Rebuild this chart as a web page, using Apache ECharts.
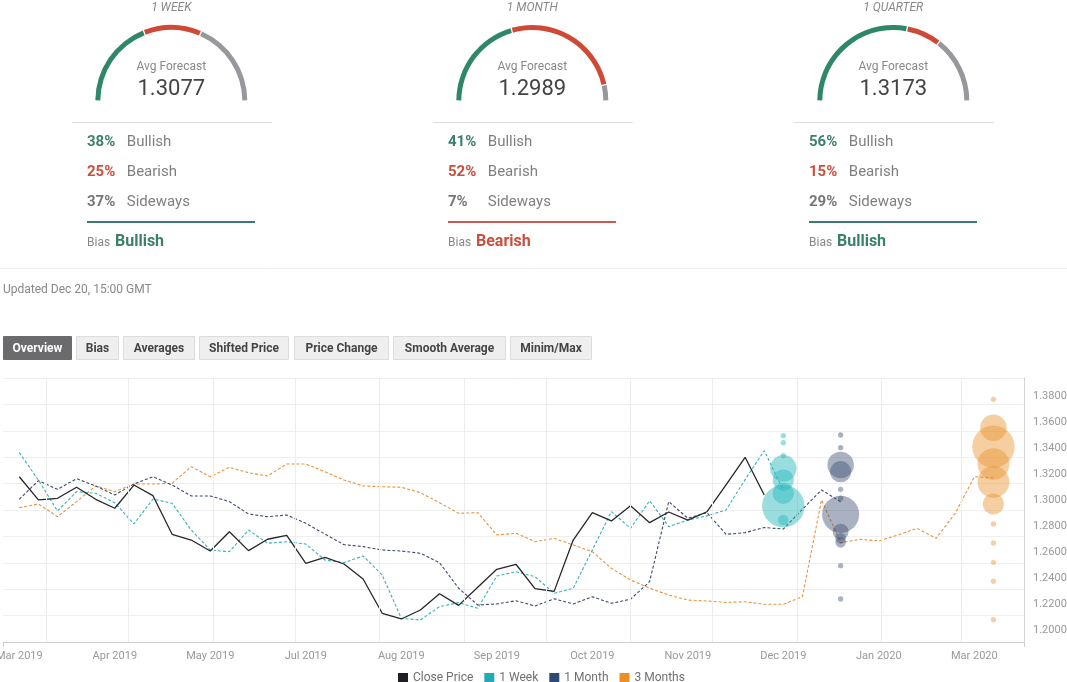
<!DOCTYPE html>
<html><head><meta charset="utf-8">
<script src="https://cdn.jsdelivr.net/npm/echarts@6/dist/echarts.min.js"></script>
<style>html,body{margin:0;padding:0;background:#fff}#c{width:1067px;height:682px}</style>
</head><body><div id="c"></div>
<script>
// ---------- data ----------
const horizons = ['1 WEEK', '1 MONTH', '1 QUARTER'];
const avgForecast = ['1.3077', '1.2989', '1.3173'];
const bullishPct = [38, 41, 56];
const bearishPct = [25, 52, 15];
const sidewaysPct = [37, 7, 29];
const biasText = ['Bullish', 'Bearish', 'Bullish'];
const updatedText = 'Updated Dec 20, 15:00 GMT';
const tabs = ['Overview', 'Bias', 'Averages', 'Shifted Price', 'Price Change', 'Smooth Average', 'Minim/Max'];

const firstWeek = [2019, 2, 22];            // first weekly close (22 Mar 2019)
const xTickLabels = ['Mar 2019', 'Apr 2019', 'May 2019', 'Jul 2019', 'Aug 2019', 'Sep 2019',
                     'Oct 2019', 'Nov 2019', 'Dec 2019', 'Jan 2020', 'Mar 2020'];
const xTickEvery = 5;                       // one label every 5 weeks
const monthStarts = [[2019,3],[2019,4],[2019,5],[2019,6],[2019,7],[2019,8],[2019,9],[2019,10],[2019,11],[2020,0],[2020,1],[2020,2]];

const closePrice = [1.3182, 1.3003, 1.3016, 1.3101, 1.3008, 1.2939, 1.3118, 1.3036, 1.2738, 1.2694,
  1.2609, 1.2758, 1.2612, 1.2700, 1.2730, 1.2514, 1.2561, 1.2509, 1.2393, 1.2129,
  1.2085, 1.2154, 1.2280, 1.2190, 1.2329, 1.2468, 1.2507, 1.2319, 1.2298, 1.2694,
  1.2905, 1.2841, 1.2959, 1.2828, 1.2910, 1.2848, 1.2912, 1.3120, 1.3332, 1.3041];
const week1 = [1.3368, 1.3157, 1.2918, 1.3067, 1.3054, 1.2982, 1.2818, 1.3010, 1.2977, 1.2771,
  1.2617, 1.2604, 1.2771, 1.2669, 1.2681, 1.2663, 1.2540, 1.2519, 1.2571, 1.2424,
  1.2090, 1.2077, 1.2180, 1.2211, 1.2167, 1.2416, 1.2450, 1.2411, 1.2283, 1.2322,
  1.2617, 1.2913, 1.2784, 1.2997, 1.2797, 1.2848, 1.2880, 1.2926, 1.3160, 1.3383, 1.3077];
const month1 = [1.3008, 1.3152, 1.3085, 1.3167, 1.3111, 1.3041, 1.3126, 1.3182, 1.3118, 1.3034,
  1.3034, 1.2990, 1.2895, 1.2874, 1.2887, 1.2823, 1.2740, 1.2658, 1.2643, 1.2617,
  1.2609, 1.2592, 1.2519, 1.2322, 1.2193, 1.2201, 1.2226, 1.2185, 1.2241, 1.2201,
  1.2257, 1.2206, 1.2237, 1.2373, 1.2990, 1.2862, 1.2905, 1.2738, 1.2751, 1.2790,
  1.2779, 1.2931, 1.3080, 1.2989];
const months3 = [1.2943, 1.2972, 1.2874, 1.2990, 1.3111, 1.3067, 1.3126, 1.3126, 1.3131, 1.3260,
  1.3182, 1.3255, 1.3213, 1.3188, 1.3280, 1.3280, 1.3221, 1.3157, 1.3111, 1.3105,
  1.3101, 1.3059, 1.2982, 1.2900, 1.2905, 1.2733, 1.2746, 1.2681, 1.2707, 1.2656,
  1.2604, 1.2476, 1.2386, 1.2322, 1.2270, 1.2231, 1.2224, 1.2213, 1.2218, 1.2198,
  1.2198, 1.2257, 1.3003, 1.2673, 1.2699, 1.2687, 1.2733, 1.2784, 1.2707, 1.2900,
  1.3182, 1.3173];

const horizonWeeks = [1, 4, 12];
const week1Forecasts = [1.3499, 1.3445, 1.3345, 1.3247, 1.3157, 1.3054, 1.2956, 1.2848];
const week1Counts    = [1, 1, 1, 5, 4, 4, 8, 2];
const month1Forecasts = [1.3504, 1.3406, 1.3273, 1.3221, 1.3085, 1.3016, 1.2892, 1.2758, 1.2707, 1.2676, 1.2496, 1.2239];
const month1Counts    = [1, 1, 5, 4, 1, 1, 7, 3, 2, 2, 1, 1];
const months3Forecasts = [1.3779, 1.3560, 1.3414, 1.3280, 1.3142, 1.2972, 1.2818, 1.2671, 1.2522, 1.2376, 1.2079];
const months3Counts    = [1, 5, 8, 6, 6, 4, 1, 1, 1, 1, 1];

// ---------- styles / layout ----------
const FONT = 'Roboto';
const GREEN = '#2e8769', GREEN_T = '#3b7f6d';
const RED = '#cf4a36', RED_T = '#c9503f';
const GREY = '#98989c';
const C_CLOSE = '#26262b', C_W = '#35b2bb', C_M = '#3c4a68', C_Q = '#e8923a';
const gaugeCx = [171.3, 532.3, 893.3];
const tabX = [[3,71],[76,118],[123,194],[199,288],[294,388],[393,505],[510,591]];

const WEEK_MS = 7 * 864e5;
const t0 = Date.UTC(firstWeek[0], firstWeek[1], firstWeek[2]);
const toWeek = (y, m, d) => (Date.UTC(y, m, d) - t0) / WEEK_MS;

function txt(x, y, text, font, fill, align) {
  return { type: 'text', silent: true, style: { x, y, text, font, fill,
    align: align || 'left', verticalAlign: 'middle',
    textAlign: align || 'left', textVerticalAlign: 'middle' } };
}
function hline(x1, x2, y, color, w) {
  return { type: 'line', silent: true, shape: { x1, y1: y, x2, y2: y }, style: { stroke: color, lineWidth: w || 1 } };
}

const graphics = [];
const series = [];
for (let i = 0; i < 3; i++) {
  const cx = gaugeCx[i];
  graphics.push(txt(cx, 8, horizons[i], 'italic 12px ' + FONT, '#888', 'center'));
  graphics.push(txt(cx, 67, 'Avg Forecast', '12px ' + FONT, '#888', 'center'));
  graphics.push(txt(cx, 89.5, avgForecast[i], '22px ' + FONT, '#444', 'center'));
  graphics.push(hline(cx - 99.5, cx + 100.5, 122.5, '#dddddd', 1));
  const px = cx - 84.3, lx = cx - 44.5;
  const rows = [[bullishPct[i] + '%', 'Bullish', GREEN_T], [bearishPct[i] + '%', 'Bearish', RED_T], [sidewaysPct[i] + '%', 'Sideways', '#777']];
  rows.forEach((r, k) => {
    graphics.push(txt(px, 142 + 30 * k, r[0], 'bold 15px ' + FONT, r[2], 'left'));
    graphics.push(txt(lx, 142 + 30 * k, r[1], '15px ' + FONT, '#808080', 'left'));
  });
  const bc = biasText[i] === 'Bullish' ? '#3a7a70' : '#c75b4f';
  graphics.push(hline(px, px + 168, 222, bc, 2));
  graphics.push(txt(px, 242.5, 'Bias', '12px ' + FONT, '#888', 'left'));
  graphics.push(txt(px + 28, 241.5, biasText[i], 'bold 16px ' + FONT, biasText[i] === 'Bullish' ? GREEN_T : RED_T, 'left'));

  series.push({
    type: 'pie', silent: true, center: [cx, 101], radius: [71, 76], startAngle: 180, clockwise: true, padAngle: 1,
    label: { show: false }, labelLine: { show: false }, emphasis: { disabled: true }, tooltip: { show: false },
    data: [
      { value: bullishPct[i], itemStyle: { color: GREEN } },
      { value: bearishPct[i], itemStyle: { color: RED } },
      { value: sidewaysPct[i], itemStyle: { color: GREY } },
      { value: bullishPct[i] + bearishPct[i] + sidewaysPct[i], itemStyle: { color: 'rgba(0,0,0,0)' } }
    ]
  });
}
graphics.push(hline(0, 1067, 268.5, '#ececec', 1));
graphics.push(txt(3, 290, updatedText, '12px ' + FONT, '#888', 'left'));
tabs.forEach((t, k) => {
  const [a, b] = tabX[k];
  const active = k === 0;
  graphics.push({ type: 'rect', silent: true, shape: { x: a + 0.5, y: 336.5, width: b - a, height: 23 },
    style: { fill: active ? '#6b6b6d' : '#efefef', stroke: active ? '#6b6b6d' : '#dcdcdc', lineWidth: 1 } });
  graphics.push(txt((a + b) / 2 + 0.5, 348.5, t, 'bold 12px ' + FONT, active ? '#fff' : '#444', 'center'));
});

// ---------- main chart ----------
const lastIdx = closePrice.length - 1;
const pairs = arr => arr.map((v, i) => [i, v]);
const bubble = (vals, counts, h) => vals.map((v, k) => [lastIdx + h, v, counts[k]]);
const monthLines = monthStarts.map(([y, m]) => ({ xAxis: toWeek(y, m, 1) }));
const dashed = (c, w) => ({ color: c, width: w, type: [3, 2] });

series.push(
  { type: 'line', name: 'grid', xAxisIndex: 0, yAxisIndex: 0, data: [], z: 1, silent: true,
    markLine: { silent: true, symbol: 'none', label: { show: false }, animation: false,
      lineStyle: { color: '#ececec', type: 'solid', width: 1 }, data: monthLines } },
  { type: 'line', name: '3 Months', data: pairs(months3), showSymbol: false, symbol: 'none', lineStyle: dashed(C_Q, 1.1), itemStyle: { color: C_Q }, z: 3 },
  { type: 'line', name: '1 Month', data: pairs(month1), showSymbol: false, symbol: 'none', lineStyle: dashed(C_M, 1.1), itemStyle: { color: C_M }, z: 3 },
  { type: 'line', name: '1 Week', data: pairs(week1), showSymbol: false, symbol: 'none', lineStyle: dashed(C_W, 1.1), itemStyle: { color: C_W }, z: 3 },
  { type: 'line', name: 'Close Price', data: pairs(closePrice), showSymbol: false, symbol: 'none', lineStyle: { color: C_CLOSE, width: 1.3 }, itemStyle: { color: C_CLOSE }, z: 4 },
  { type: 'scatter', name: '1 Week forecasts', data: bubble(week1Forecasts, week1Counts, horizonWeeks[0]), symbolSize: d => 5.3 * d[2], itemStyle: { color: 'rgba(43,183,189,0.6)' }, z: 5 },
  { type: 'scatter', name: '1 Month forecasts', data: bubble(month1Forecasts, month1Counts, horizonWeeks[1]), symbolSize: d => 5.3 * d[2], itemStyle: { color: 'rgba(61,79,115,0.55)' }, z: 5 },
  { type: 'scatter', name: '3 Months forecasts', data: bubble(months3Forecasts, months3Counts, horizonWeeks[2]), symbolSize: d => 5.3 * d[2], itemStyle: { color: 'rgba(232,146,43,0.55)' }, z: 5 }
);

const xMin = -0.853, xMax = 52.60;
const option = {
  animation: false,
  textStyle: { fontFamily: FONT },
  graphic: { elements: graphics },
  legend: {
    data: [
      { name: 'Close Price', itemStyle: { color: '#1e1e24' } },
      { name: '1 Week', itemStyle: { color: '#22aab4' } },
      { name: '1 Month', itemStyle: { color: '#2f4b74' } },
      { name: '3 Months', itemStyle: { color: '#ee8e22' } }
    ],
    left: 393, top: 667, icon: 'rect', itemWidth: 10, itemHeight: 10, itemGap: 11,
    textStyle: { color: '#707070', fontSize: 12, fontFamily: FONT }
  },
  grid: { left: 3, right: 43, top: 378, bottom: 40, containLabel: false, outerBoundsMode: 'none' },
  xAxis: {
    type: 'value', min: xMin, max: xMax,
    axisLine: { show: true, onZero: false, lineStyle: { color: '#cfcfcf' } },
    axisTick: { show: true, length: 5, lineStyle: { color: '#cfcfcf' }, customValues: [xMin, xMax] },
    splitLine: { show: false },
    axisLabel: {
      color: '#999', fontSize: 11, margin: 9,
      customValues: xTickLabels.map((_, k) => k * xTickEvery),
      formatter: v => xTickLabels[Math.round(v / xTickEvery)] || ''
    }
  },
  yAxis: [
    {
      type: 'value', position: 'right', min: 1.19074, max: 1.39437, splitNumber: 10,
      minInterval: 0.02, maxInterval: 0.02,
      axisLine: { show: true, onZero: false, lineStyle: { color: '#d5d5d5' } },
      axisTick: { show: false }, splitLine: { show: false },
      axisLabel: { color: '#999', fontSize: 11, margin: 9, showMinLabel: false, showMaxLabel: false,
        formatter: v => v.toFixed(4) }
    },
    {
      type: 'value', position: 'left', min: 0, max: 10, interval: 1,
      axisLine: { show: false, onZero: false }, axisTick: { show: false }, axisLabel: { show: false },
      splitLine: { show: true, lineStyle: { color: '#efefef' } }
    }
  ],
  series
};
const chart = echarts.init(document.getElementById('c'), null, { renderer: 'canvas' });
chart.setOption(option);
</script></body></html>
